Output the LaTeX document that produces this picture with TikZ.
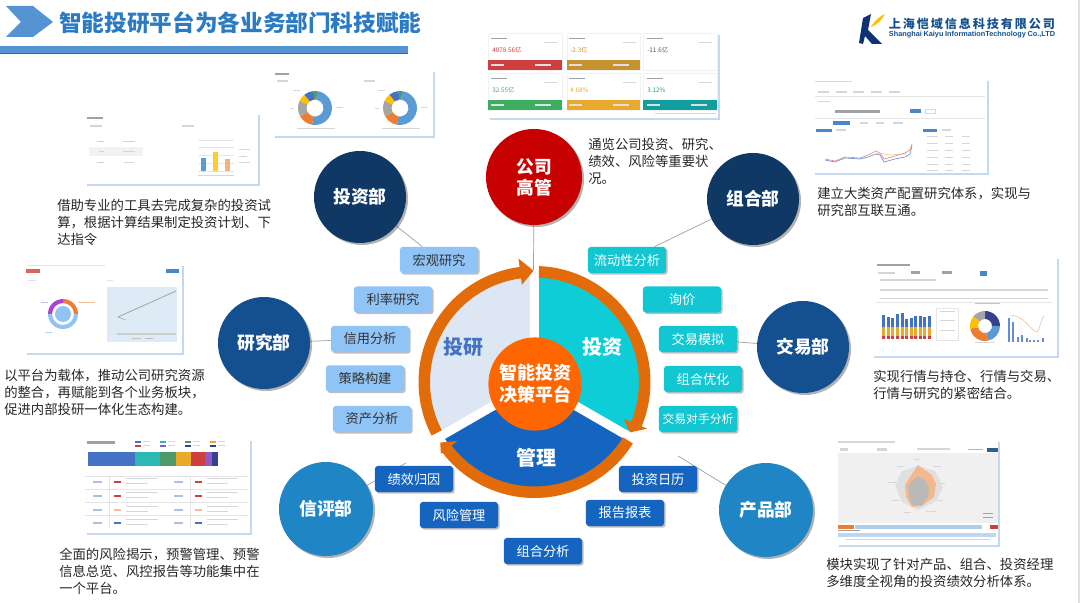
\documentclass[tikz,border=0pt]{standalone}
\usepackage{fontspec}
\setmainfont{Noto Sans CJK SC}
\newfontfamily\logolatin{Liberation Sans}
\usepackage{tikz}
\usetikzlibrary{shadows,backgrounds}
\definecolor{ringorange}{HTML}{E36C0A}
\definecolor{hubcolor}{HTML}{FF6600}
\definecolor{titleblue}{HTML}{2B7BC4}
\definecolor{headerblue}{HTML}{5593D3}
\definecolor{lightboxblue}{HTML}{90C3F6}
\definecolor{cyanbox}{HTML}{12C6D2}
\definecolor{darkboxblue}{HTML}{1565C0}
\definecolor{sectorcyan}{HTML}{0FCDD6}
\definecolor{sectorpale}{HTML}{DDE7F3}
\definecolor{navycircle}{HTML}{0F3864}
\definecolor{midcircle}{HTML}{14508F}
\definecolor{brightcircle}{HTML}{1F85C4}
\definecolor{panelshadow}{HTML}{C3D9F0}
\definecolor{minigray}{HTML}{D3D6DA}
\definecolor{minidark}{HTML}{9DA2A8}
\definecolor{chartblue}{HTML}{5B9BD5}
\definecolor{chartorange}{HTML}{ED7D31}
\definecolor{chartgray}{HTML}{A5A5A5}
\definecolor{chartyellow}{HTML}{FFC000}
\definecolor{chartroyal}{HTML}{4472C4}
\definecolor{chartgreen}{HTML}{4E9A6A}
\definecolor{chartred}{HTML}{CF3F3F}
\definecolor{chartochre}{HTML}{C6922F}
\definecolor{chartamber}{HTML}{E9A92B}
\definecolor{chartlime}{HTML}{3DAE5F}
\definecolor{charttealdark}{HTML}{119E9E}
\definecolor{chartteal}{HTML}{2DB7B5}
\definecolor{chartpurple}{HTML}{8A5CC4}
\definecolor{chartnavy}{HTML}{34418C}
\definecolor{buttonblue}{HTML}{4A86C8}
\tikzset{
    deptcircle/.style={circle, minimum size=2.3cm, inner sep=0pt, font=\fontsize{12.6}{15}\selectfont\bfseries, text=white, align=center, drop shadow={shadow xshift=0.05cm, shadow yshift=-0.05cm, fill=black, opacity=0.3}},
    taskbox/.style={rectangle, rounded corners=0.07cm, minimum width=1.95cm, minimum height=0.65cm, inner sep=0pt, font=\fontsize{9.4}{11}\selectfont, drop shadow={shadow xshift=0.04cm, shadow yshift=-0.04cm, fill=black, opacity=0.25}},
    researchbox/.style={taskbox, fill=lightboxblue, text=black!80},
    tradebox/.style={taskbox, fill=cyanbox, text=white},
    managebox/.style={taskbox, fill=darkboxblue, text=white},
    notetext/.style={anchor=west, align=left, inner sep=0pt, text=black!85, font=\fontsize{9.5}{12.1}\selectfont},
    sectorlabel/.style={font=\fontsize{14.2}{17}\selectfont\bfseries},
    linkline/.style={draw=gray!75, line width=0.5pt},
    panel/.style={fill=white, drop shadow={shadow xshift=0.06cm, shadow yshift=-0.06cm, fill=panelshadow, opacity=1}},
    minibar/.style={fill=minigray},
    cardvalue/.style={anchor=west, inner sep=0pt, font=\fontsize{4.5}{5}\selectfont},
}
\newcommand{\ringpart}[6]{\fill[#6,shift={#1}] (#4:#2) arc[start angle=#4,end angle=#5,radius=#2] -- (#5:#3) arc[start angle=#5,end angle=#4,radius=#3] -- cycle;}
\begin{document}
\begin{tikzpicture}[x=0.025cm,y=-0.025cm]
\useasboundingbox (0,0) rectangle (1080,603);
\fill[black!12] (1078,0) rectangle (1080,603);

% header
\fill[headerblue] (6,6) -- (33,6) -- (53,22) -- (33,37) -- (6,37) -- (21,22) -- cycle;
\fill[headerblue] (0,46) rectangle (408,53);
\fill[titleblue!85!black] (0,53) rectangle (408,54);
\node[anchor=west, inner sep=0pt, text=titleblue, font=\fontsize{16.1}{18}\selectfont\bfseries] (pagetitle) at (59,23) {智能投研平台为各业务部门科技赋能};

% logo
\fill[navycircle!90!blue] (859,43) -- (863,18) -- (871,14) -- (868,30) -- (882,44) -- (872,44) -- (865,36) -- (863,44) -- cycle;
\fill[chartyellow] (871,27) .. controls (875,20) and (880,16) .. (885,14) .. controls (882,20) and (877,25) .. (871,27) -- cycle;
\node[inner sep=0pt, text=midcircle, font=\fontsize{8.6}{10}\selectfont\bfseries] (logocn) at (972,24) {\makebox[4.15cm][s]{上\hfil 海\hfil 恺\hfil 域\hfil 信\hfil 息\hfil 科\hfil 技\hfil 有\hfil 限\hfil 公\hfil 司}};
\node[inner sep=0pt, text=midcircle, font=\logolatin\fontsize{5.2}{6}\selectfont\bfseries] (logoen) at (972,35) {\makebox[4.15cm][s]{Shanghai\hfil Kaiyu\hfil InformationTechnology\hfil Co.,LTD}};

% panel with bar chart
\fill[panel] (85,113) rectangle (258,184);
\fill[minidark] (87,117) rectangle (103,119);
\fill[minibar] (90,125) rectangle (102,127);
\fill[minibar] (182,125) rectangle (194,127);
\fill[black!5] (89,147) rectangle (143,156);
\fill[minibar] (97,141) rectangle (104,142);
\fill[minibar] (123,141) rectangle (135,142);
\fill[minibar] (99,151) rectangle (104,152);
\fill[minibar] (123,151) rectangle (135,152);
\fill[minibar] (97,162) rectangle (104,163);
\fill[minibar] (124,162) rectangle (134,163);
\draw[black!10, line width=0.2pt] (198,140) -- (234,140) (198,147) -- (234,147) (198,155) -- (234,155) (198,163) -- (234,163) (198,171) -- (234,171);
\fill[chartblue] (201,158) rectangle (206,171);
\fill[chartyellow!80] (213,152) rectangle (218,171);
\fill[chartorange!60] (225,159) rectangle (230,171);
\fill[minibar] (239,149) rectangle (250,150);
\fill[minibar] (239,156) rectangle (247,157);
\fill[minibar] (239,162) rectangle (250,163);
\fill[minibar] (198,175) rectangle (234,176);

% panel with two donuts
\fill[panel] (273,70) rectangle (433,136);
\fill[minidark] (275,73) rectangle (289,75);
\fill[minibar] (277,80) rectangle (288,82);
\fill[minibar] (364,80) rectangle (375,82);
\foreach \cx in {315,400} {
  \ringpart{(\cx,108)}{17}{8.5}{-82}{100}{chartblue}
  \ringpart{(\cx,108)}{17}{8.5}{100}{150}{chartorange}
  \ringpart{(\cx,108)}{17}{8.5}{150}{205}{chartgray}
  \ringpart{(\cx,108)}{17}{8.5}{205}{232}{chartyellow}
  \ringpart{(\cx,108)}{17}{8.5}{232}{265}{chartroyal}
  \ringpart{(\cx,108)}{17}{8.5}{265}{278}{chartgreen}
  \fill[minibar] (\cx-18,128) rectangle (\cx+20,129);
  \fill[minibar] (\cx+21,107) rectangle (\cx+28,108);
  \fill[minibar] (\cx-22,90) rectangle (\cx-15,91);
  \fill[minibar] (\cx-25,108) rectangle (\cx-21,109);
}

% panel with result cards
\fill[panel] (488,33) rectangle (718,118);
\fill[white, draw=black!5, line width=0.2pt] (488,33) rectangle (562,70) (567,33) rectangle (640,70) (643,33) rectangle (717,70);
\fill[white, draw=black!5, line width=0.2pt] (488,73) rectangle (562,110) (567,73) rectangle (640,110) (643,73) rectangle (717,110);
\fill[chartred] (488,60) rectangle (562,70);
\fill[chartochre] (567,60) rectangle (640,70);
\fill[chartlime] (488,100) rectangle (562,110);
\fill[chartamber] (567,100) rectangle (640,110);
\fill[charttealdark] (643,100) rectangle (717,110);
\foreach \bx/\by in {491/38,569/38,647/38,491/78,569/78,647/78} {
  \fill[minidark] (\bx,\by) rectangle (\bx+16,\by+1.5);
}
\foreach \bx/\by in {544/42,623/42,699/42,544/82,623/82,699/82} {
  \fill[minibar] (\bx,\by) rectangle (\bx+13,\by+1);
}
\foreach \bx/\by in {491/64,491/104,569/64,569/104,647/104} {
  \fill[white!75!gray] (\bx,\by) rectangle (\bx+13,\by+2);
  \fill[white!75!gray] (\bx+44,\by) rectangle (\bx+60,\by+2);
}
\node[cardvalue, text=chartred] (cardone) at (492,50) {4078.56亿};
\node[cardvalue, text=chartochre] (cardtwo) at (570,50) {-2.3亿};
\node[cardvalue, text=black!65] (cardthree) at (647,50) {-11.6亿};
\node[cardvalue, text=chartlime] (cardfour) at (492,90) {32.55亿};
\node[cardvalue, text=chartamber] (cardfive) at (570,90) {4.68\%};
\node[cardvalue, text=charttealdark] (cardsix) at (647,90) {3.12\%};
\fill[minibar] (655,113.5) rectangle (716,114.5);

% panel with line chart
\fill[panel] (813,79) rectangle (987,173);
\fill[minibar] (815,81) rectangle (852,82);
\foreach \bx in {818,836,853,871,889} {
  \fill[minibar] (\bx,91) rectangle (\bx+11,93);
}
\draw[black!10, line width=0.3pt] (815,96) -- (985,96) (815,118) -- (985,118);
\fill[minibar] (818,101) rectangle (830,102);
\fill[minidark] (835,110) rectangle (880,113);
\fill[buttonblue] (910,109) rectangle (921,113);
\draw[black!15, line width=0.3pt] (925,109) rectangle (935,113);
\fill[buttonblue] (833,121) rectangle (850,125);
\fill[minibar] (860,122) rectangle (868,124);
\fill[minibar] (876,122) rectangle (884,124);
\fill[minibar] (893,122) rectangle (903,124);
\fill[buttonblue] (816,129) rectangle (832,132);
\fill[minibar] (836,129.5) rectangle (846,131.5);
\fill[buttonblue] (923,129) rectangle (937,132);
\fill[minibar] (942,129.5) rectangle (951,131.5);
\foreach \ry in {136,143,150,157,164,170} {
  \fill[minibar] (927,\ry) rectangle (938,\ry+1);
  \fill[minibar] (945,\ry) rectangle (953,\ry+1);
  \fill[minibar] (962,\ry) rectangle (970,\ry+1);
}
\draw[chartred!60, line width=0.45pt] (825,159) -- (835,161) -- (845,157) -- (860,158) -- (868,155) -- (876,151) -- (880,153) -- (884,159) -- (895,156) -- (905,153) -- (910,150) -- (912,144);
\draw[chartroyal!80, line width=0.45pt] (825,160) -- (835,162) -- (845,158) -- (860,159) -- (868,157) -- (876,154) -- (880,155) -- (884,162) -- (895,159) -- (905,157) -- (910,154) -- (912,146);
\draw[chartorange!60, line width=0.35pt] (870,156) -- (878,153) -- (890,155) -- (905,154) -- (911,148);

% panel with ring and fit line
\fill[panel] (25,264) rectangle (182,353);
\fill[chartred!80] (26,269) rectangle (40,273);
\fill[buttonblue] (166,269) rectangle (179,273);
\fill[minigray!70] (28,265) rectangle (105,266);
\ringpart{(63,314)}{15}{11}{-90}{0}{chartorange}
\ringpart{(63,314)}{15}{11}{0}{180}{lightboxblue}
\ringpart{(63,314)}{15}{11}{180}{270}{chartpurple!70!magenta}
\fill[lightboxblue] (63,314) circle (8);
\fill[minigray!70] (28,280) rectangle (36,281);
\fill[minigray!70] (107,280) rectangle (113,281);
\fill[chartorange!50] (78,302) rectangle (95,303);
\fill[chartpurple!40] (41,302) rectangle (48,303);
\fill[lightboxblue!70] (45,332) rectangle (52,333);
\fill[chartblue!20] (107,287) rectangle (177,342);
\draw[chartgray, line width=0.6pt] (118,317) -- (176,291);
\draw[chartgray, line width=0.4pt] (118,317) -- (126,320);
\fill[gray!40] (117,333) rectangle (176,335);
\fill[gray!50] (132,338) rectangle (141,339);
\fill[gray!50] (145,338) rectangle (153,339);

% panel with stacked bar and table
\fill[panel] (85,439) rectangle (250,533);
\fill[minidark] (87,441) rectangle (115,444);
\foreach \lx/\ly/\lc in {135/441/chartroyal,135/445/chartred,160/441/chartteal,160/445/chartpurple,185/441/chartgreen,185/445/chartnavy,210/441/chartamber,210/445/chartnavy} {
  \fill[\lc] (\lx,\ly) rectangle (\lx+6,\ly+2);
  \fill[minibar] (\lx+8,\ly) rectangle (\lx+15,\ly+1.4);
}
\fill[chartroyal] (88,452) rectangle (135,466);
\fill[chartteal] (135,452) rectangle (160,466);
\fill[chartgreen] (160,452) rectangle (176,466);
\fill[chartamber] (176,452) rectangle (191,466);
\fill[chartred] (191,452) rectangle (205,466);
\fill[chartpurple] (205,452) rectangle (212,466);
\fill[chartnavy] (212,452) rectangle (218,466);
\draw[black!10, line width=0.3pt] (85,476) -- (248,476) (85,489) -- (248,489) (85,502) -- (248,502) (85,515) -- (248,515);
\draw[black!10, line width=0.3pt] (109,476) -- (109,528) (190,476) -- (190,528);
\foreach \ry/\rc in {481/chartred,495/chartred,509/chartorange!50,522/chartroyal} {
  \fill[chartroyal!45] (93,\ry) rectangle (102,\ry+1.5);
  \fill[\rc] (114,\ry) rectangle (121,\ry+1.5);
  \fill[minibar] (126,\ry-3) rectangle (158,\ry-1.8);
  \fill[minibar] (126,\ry+2) rectangle (148,\ry+3.2);
  \fill[chartroyal!45] (174,\ry) rectangle (183,\ry+1.5);
  \fill[\rc] (195,\ry) rectangle (202,\ry+1.5);
  \fill[minibar] (207,\ry-3) rectangle (238,\ry-1.8);
  \fill[minibar] (207,\ry+2) rectangle (228,\ry+3.2);
}

% panel with trade charts
\fill[panel] (872,257) rectangle (1057,356);
\fill[minidark] (877,264) rectangle (910,266);
\fill[minibar] (878,272) rectangle (895,274);
\fill[minidark] (911,271) rectangle (920,274);
\fill[minidark] (942,271) rectangle (952,274);
\fill[buttonblue] (980,271) rectangle (987,276);
\fill[minibar] (880,279) rectangle (936,281);
\fill[minibar] (880,289) rectangle (1048,291);
\fill[minibar] (880,298) rectangle (1048,299.5);
\draw[black!10, line width=0.3pt] (876,302) -- (1052,302);
\foreach \sx/\st in {882/315,887/317,891/318,896/314,901/313,905/319,910/318,914/316,919/316,923/317,928/316} {
  \fill[chartroyal] (\sx,\st) rectangle (\sx+2.6,327);
  \fill[chartamber] (\sx,327) rectangle (\sx+2.6,336);
  \fill[chartred] (\sx,336) rectangle (\sx+2.6,339);
}
\draw[black!10, line width=0.3pt] (936,308) rectangle (958,340);
\fill[minibar] (940,311) rectangle (955,312);
\fill[minibar] (940,320) rectangle (955,321);
\fill[minibar] (940,330) rectangle (955,331);
\ringpart{(985,326)}{15}{7}{-90}{0}{chartnavy}
\ringpart{(985,326)}{15}{7}{0}{80}{chartblue}
\ringpart{(985,326)}{15}{7}{80}{170}{chartorange}
\ringpart{(985,326)}{15}{7}{170}{220}{chartyellow}
\ringpart{(985,326)}{15}{7}{220}{270}{chartgray}
\fill[minibar] (975,342) rectangle (995,343);
\foreach \sx/\st in {1008/318,1012/322,1017/337,1021/335,1026/338,1029/340,1033/340,1037/340,1042/338} {
  \fill[chartroyal!80] (\sx,\st) rectangle (\sx+2,342);
}
\draw[chartorange!50, line width=0.4pt] (1010,315) .. controls (1025,316) and (1030,330) .. (1037,332) .. controls (1040,330) and (1041,318) .. (1044,316);
\fill[chartred!40] (975,303) rectangle (1000,304);

% panel with radar
\fill[panel] (837,440) rectangle (998,545);
\fill[minibar] (838,441) rectangle (895,443);
\fill[minibar] (840,448) rectangle (848,451);
\fill[minibar] (877,448) rectangle (887,451);
\fill[minibar] (917,448) rectangle (950,450);
\fill[chartred!50] (968,449) rectangle (983,450);
\fill[buttonblue!70!black] (987,448) rectangle (998,452);
\fill[black!6] (838,453) rectangle (998,523);
\fill[black!12] (918,466) -- (935,471) -- (943,487) -- (936,501) -- (918,510) -- (902,502) -- (895,485) -- (902,471) -- cycle;
\fill[chartorange!55] (918,465) -- (932,475) -- (936,484) -- (934,497) -- (922,506) -- (912,507) -- (906,497) -- (905,485) -- (910,477) -- cycle;
\fill[gray!55] (918,476) -- (925,480) -- (929,487) -- (928,497) -- (922,505) -- (912,505) -- (909,497) -- (908,486) -- (913,480) -- cycle;
\fill[minibar] (914,459) rectangle (920,460);
\fill[minibar] (933,466) rectangle (941,467);
\fill[minibar] (940,483) rectangle (945,484);
\fill[minibar] (937,500) rectangle (943,501);
\fill[minibar] (926,511) rectangle (936,512);
\fill[minibar] (904,512) rectangle (911,513);
\fill[minibar] (892,500) rectangle (899,501);
\fill[minibar] (888,482) rectangle (896,483);
\fill[minibar] (897,466) rectangle (904,467);
\fill[minidark] (983,513) rectangle (993,514);
\fill[minidark] (983,517) rectangle (993,518);
\fill[chartorange] (838,525) rectangle (854,529);
\fill[chartblue!50] (855,525) rectangle (982,529);
\fill[chartred] (990,525) rectangle (998,529);
\fill[chartblue!40] (838,533) rectangle (996,537);
\fill[minigray] (845,539) rectangle (990,540);
\fill[minidark] (838,530) rectangle (860,531);

% sectors and ring
\begin{scope}[shift={(534.5,382)}]
\fill[sectorcyan] (0,0) -- (-90:106) arc[start angle=-90,end angle=30,radius=106] -- cycle;
\fill[darkboxblue] (0,0) -- (30:106) arc[start angle=30,end angle=150,radius=106] -- cycle;
\fill[sectorpale] (0,0) -- (150:106) arc[start angle=150,end angle=270,radius=106] -- cycle;
\draw[white, line width=0.225cm] (0,0) -- (-90:112);
\draw[white, line width=0.225cm] (0,0) -- (30:118);
\draw[white, line width=0.225cm] (0,0) -- (150:118);
\fill[ringorange] (-87.7:116) arc[start angle=-87.7,end angle=22.5,radius=116] -- (22.5:122) -- (27.8:108) -- (22.5:96.6) -- (22.5:104.5) arc[start angle=22.5,end angle=-87.7,radius=104.5] -- cycle;
\fill[ringorange] (32:116) arc[start angle=32,end angle=142.5,radius=116] -- (142.5:118) -- (147.3:112) -- (142.5:97) -- (142.5:104.5) arc[start angle=142.5,end angle=32,radius=104.5] -- cycle;
\fill[ringorange] (152.5:116) arc[start angle=152.5,end angle=262.6,radius=116] -- (262.6:124.5) -- (269.5:111.3) -- (262.6:98) -- (262.6:104.5) arc[start angle=262.6,end angle=152.5,radius=104.5] -- cycle;
\end{scope}
\node[circle, fill=hubcolor, minimum size=2.33cm, inner sep=0pt, text=white, align=center, font=\fontsize{12.8}{15.6}\selectfont\bfseries] (hub) at (535,384) {智能投资\\决策平台};
\node[sectorlabel, text=chartroyal] (research) at (463,347) {投研};
\node[sectorlabel, text=white] (invest) at (602,347) {投资};
\node[sectorlabel, text=white] (manage) at (536.5,458) {管理};

% department circles
\node[deptcircle, fill=red!78!black, minimum size=2.4cm] (leader) at (534,177) {公司\\高管};
\node[deptcircle, fill=navycircle] (investdept) at (360,197) {投资部};
\node[deptcircle, fill=navycircle] (portfolio) at (753,199) {组合部};
\node[deptcircle, fill=midcircle] (researchdept) at (264,343) {研究部};
\node[deptcircle, fill=midcircle] (tradedept) at (803,347) {交易部};
\node[deptcircle, fill=brightcircle, minimum size=2.35cm] (ratingdept) at (326,509) {信评部};
\node[deptcircle, fill=brightcircle, minimum size=2.35cm] (productdept) at (766,510) {产品部};

% task boxes
\node[researchbox] (macro) at (439,260) {宏观研究};
\node[researchbox] (rate) at (393,299.5) {利率研究};
\node[researchbox] (credit) at (370,339) {信用分析};
\node[researchbox] (strategy) at (365,378.5) {策略构建};
\node[researchbox] (asset) at (372,419) {资产分析};
\node[tradebox] (liquidity) at (627,260) {流动性分析};
\node[tradebox] (inquiry) at (682,299.5) {询价};
\node[tradebox] (simulate) at (698,339) {交易模拟};
\node[tradebox] (optimize) at (703,379) {组合优化};
\node[tradebox, font=\fontsize{8.4}{10}\selectfont] (rival) at (698,419) {交易对手分析};
\node[managebox] (attribution) at (414,479) {绩效归因};
\node[managebox] (riskmanage) at (459,515) {风险管理};
\node[managebox] (combo) at (543,551) {组合分析};
\node[managebox] (report) at (625,513) {报告报表};
\node[managebox] (calendar) at (658,479) {投资日历};

% connectors
\coordinate (hubtop) at (533.5,270);
\coordinate (ratingend) at (406,463);
\coordinate (productend) at (678,456);
\begin{pgfonlayer}{background}
\draw[linkline] (leader) -- (hubtop);
\draw[linkline] (investdept) -- (macro);
\draw[linkline] (portfolio) -- (liquidity);
\draw[linkline] (researchdept) -- (credit);
\draw[linkline] (tradedept) -- (simulate);
\draw[linkline] (ratingdept) -- (ratingend);
\draw[linkline] (productdept) -- (productend);
\end{pgfonlayer}

% notes
\node[notetext] (noteinvest) at (57,222) {借助专业的工具去完成复杂的投资试\\算，根据计算结果制定投资计划、下\\达指令};
\node[notetext] (noteleader) at (588,161) {通览公司投资、研究、\\绩效、风险等重要状\\况。};
\node[notetext] (noteportfolio) at (817,201.5) {建立大类资产配置研究体系，实现与\\研究部互联互通。};
\node[notetext] (noteresearch) at (4,392) {以平台为载体，推动公司研究资源\\的整合，再赋能到各个业务板块，\\促进内部投研一体化生态构建。};
\node[notetext] (notetrade) at (873,384.5) {实现行情与持仓、行情与交易、\\行情与研究的紧密结合。};
\node[notetext] (noterating) at (59,571) {全面的风险揭示，预警管理、预警\\信息总览、风控报告等功能集中在\\一个平台。};
\node[notetext] (noteproduct) at (826,572.5) {模块实现了针对产品、组合、投资经理\\多维度全视角的投资绩效分析体系。};
\end{tikzpicture}
\end{document}
